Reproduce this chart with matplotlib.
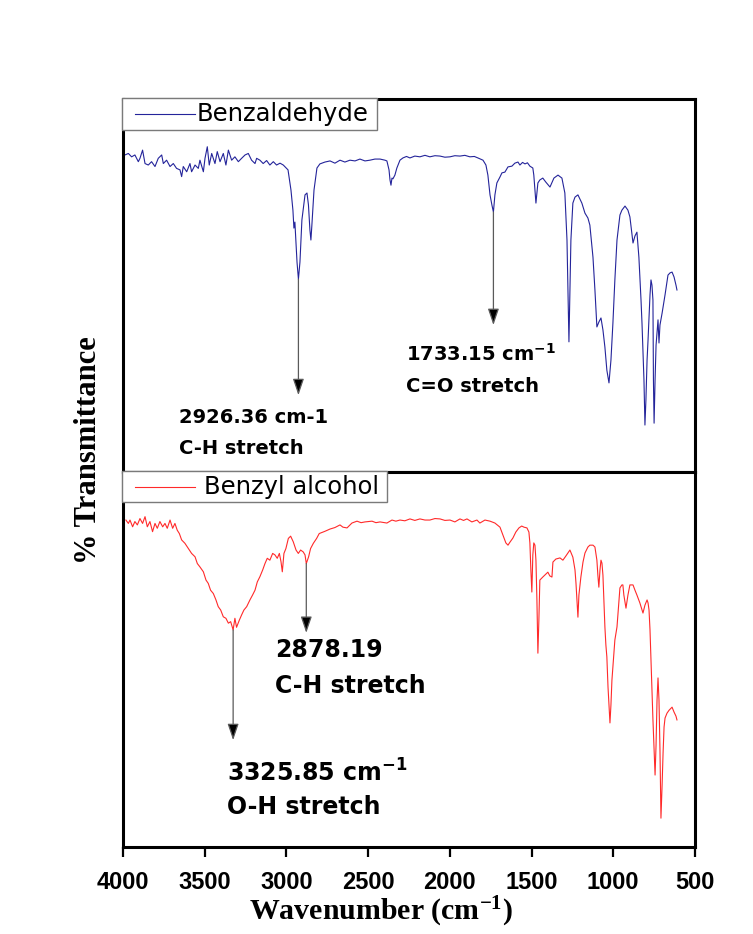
import matplotlib
matplotlib.use("Agg")
import matplotlib.pyplot as plt
from matplotlib.lines import Line2D
from matplotlib.patches import Rectangle

plt.rcParams['font.family'] = ['Liberation Sans', 'DejaVu Sans']

# FTIR spectrum of benzaldehyde (wavenumber in cm-1, % transmittance)
benzaldehyde_wn = [
    3988, 3967, 3947, 3927, 3906, 3896, 3880, 3865, 3845, 3825, 3804, 3784,
    3763, 3753, 3733, 3712, 3692, 3672, 3651, 3641, 3631, 3610, 3590, 3580,
    3559, 3539, 3529, 3508, 3498, 3484, 3472, 3457, 3437, 3423, 3406, 3386,
    3370, 3355, 3335, 3315, 3294, 3274, 3253, 3233, 3213, 3192, 3182, 3162,
    3142, 3121, 3101, 3080, 3060, 3039, 3019, 2999, 2990, 2972, 2960, 2954,
    2948, 2942, 2935, 2926.36, 2917, 2905, 2886, 2874, 2865, 2856, 2850, 2844,
    2831, 2813, 2795, 2764, 2733, 2703, 2672, 2642, 2611, 2580, 2550, 2519,
    2489, 2458, 2427, 2397, 2385, 2372, 2366, 2360, 2354, 2348, 2342, 2336,
    2324, 2305, 2287, 2265, 2244, 2214, 2183, 2152, 2122, 2091, 2060, 2030,
    1999, 1969, 1938, 1908, 1877, 1850, 1828, 1797, 1779, 1767, 1754, 1742,
    1733.15, 1724, 1712, 1693, 1681, 1663, 1644, 1620, 1602, 1583, 1571, 1555,
    1540, 1525, 1510, 1492, 1486, 1473, 1461, 1449, 1431, 1412, 1387, 1363,
    1338, 1314, 1296, 1283, 1277, 1271, 1265, 1259, 1247, 1234, 1216, 1192,
    1173, 1155, 1143, 1124, 1112, 1100, 1088, 1075, 1063, 1051, 1039, 1026,
    1014, 1002, 990, 977, 959, 947, 928, 910, 898, 885, 879, 867,
    855, 843, 830, 824, 812, 806, 800, 793, 787, 775, 769, 763,
    757, 754, 750, 744, 738, 732, 726, 720, 714, 701, 683, 665,
    652, 640, 628, 616, 610,
]
benzaldehyde_t = [
    85.0, 85.4, 84.5, 85.0, 83.2, 84.1, 86.3, 82.7, 82.3, 83.2, 81.9, 84.1,
    85.0, 82.7, 83.6, 81.9, 82.7, 81.4, 81.0, 79.2, 81.9, 80.5, 82.7, 80.5,
    82.3, 81.4, 83.6, 80.5, 84.1, 87.2, 82.3, 85.4, 82.7, 85.9, 83.2, 85.4,
    82.3, 86.3, 83.6, 84.5, 83.2, 84.1, 85.0, 85.4, 83.6, 82.7, 84.1, 83.6,
    82.7, 83.5, 82.3, 83.2, 82.3, 82.8, 82.3, 81.4, 81.0, 75.6, 70.2, 65.4,
    67.0, 62.2, 56.3, 51.7, 56.3, 67.6, 74.3, 74.8, 71.6, 64.9, 62.2, 66.2,
    75.6, 81.5, 82.6, 83.1, 83.4, 82.8, 83.6, 83.1, 83.6, 83.4, 83.9, 83.4,
    83.6, 83.9, 83.9, 83.6, 83.4, 81.0, 78.3, 76.9, 78.8, 78.6, 79.1, 79.6,
    81.5, 83.6, 84.2, 84.6, 84.2, 84.7, 84.5, 84.9, 84.5, 84.8, 84.7, 84.4,
    84.5, 84.8, 84.7, 84.9, 84.5, 84.6, 84.2, 83.6, 82.3, 79.6, 74.3, 71.5,
    69.7, 74.3, 77.5, 79.1, 80.2, 80.4, 81.8, 82.0, 82.8, 83.1, 82.3, 83.0,
    82.6, 82.9, 82.0, 81.5, 79.6, 72.1, 77.5, 78.3, 78.8, 77.7, 76.4, 78.8,
    79.6, 78.8, 74.8, 62.2, 48.8, 34.9, 48.8, 62.2, 72.1, 73.7, 74.3, 72.1,
    69.4, 68.1, 66.2, 57.6, 48.8, 38.9, 40.2, 41.3, 38.1, 33.5, 27.3, 23.9,
    30.0, 39.9, 51.5, 62.2, 68.9, 70.2, 71.3, 70.2, 68.4, 63.5, 61.4, 63.3,
    64.3, 57.6, 46.1, 39.9, 24.7, 12.6, 19.3, 30.0, 35.4, 47.5, 51.5, 50.1,
    46.1, 24.7, 13.1, 24.7, 34.0, 37.3, 40.8, 34.6, 39.4, 42.6, 47.5, 52.8,
    53.4, 53.6, 52.3, 50.1, 48.8,
]

# FTIR spectrum of benzyl alcohol (wavenumber in cm-1, % transmittance)
benzyl_wn = [
    3982, 3967, 3957, 3941, 3927, 3912, 3896, 3880, 3865, 3851, 3835, 3819,
    3804, 3790, 3774, 3757, 3743, 3729, 3712, 3696, 3682, 3668, 3655, 3641,
    3621, 3600, 3580, 3559, 3545, 3529, 3508, 3492, 3478, 3464, 3447, 3431,
    3417, 3402, 3386, 3370, 3355, 3341, 3325.85, 3315, 3305, 3288, 3274, 3260,
    3243, 3223, 3207, 3192, 3178, 3162, 3145, 3131, 3117, 3101, 3084, 3070,
    3056, 3043, 3033, 3025, 3015, 3003, 2988, 2974, 2958, 2941, 2927, 2913,
    2897, 2886, 2878.19, 2864, 2852, 2835, 2815, 2799, 2764, 2733, 2703, 2672,
    2654, 2629, 2599, 2568, 2543, 2519, 2476, 2452, 2427, 2385, 2354, 2330,
    2305, 2275, 2244, 2214, 2183, 2152, 2122, 2091, 2060, 2030, 1999, 1969,
    1938, 1916, 1895, 1865, 1834, 1816, 1785, 1754, 1724, 1693, 1675, 1657,
    1644, 1632, 1614, 1596, 1577, 1560, 1546, 1528, 1516, 1510, 1504, 1498,
    1492, 1486, 1479, 1473, 1467, 1461, 1455, 1449, 1431, 1412, 1400, 1388,
    1375, 1369, 1351, 1326, 1308, 1290, 1265, 1247, 1234, 1228, 1222, 1216,
    1210, 1198, 1185, 1173, 1155, 1143, 1124, 1112, 1100, 1094, 1088, 1081,
    1075, 1069, 1063, 1057, 1051, 1045, 1039, 1032, 1026, 1020, 1014, 1008,
    1002, 990, 977, 965, 959, 947, 941, 935, 922, 910, 898, 879,
    867, 855, 837, 824, 818, 806, 793, 787, 781, 775, 769, 763,
    757, 750, 744, 738, 732, 726, 720, 714, 708, 701, 695, 689,
    683, 671, 658, 640, 628, 616, 610,
]
benzyl_t = [
    87.2, 86.3, 87.2, 85.4, 86.8, 85.9, 87.6, 86.3, 88.1, 85.4, 86.8, 84.1,
    86.3, 85.0, 86.8, 85.4, 86.3, 85.0, 87.2, 85.0, 86.3, 84.5, 83.6, 81.9,
    81.0, 79.6, 78.3, 77.4, 75.6, 74.7, 73.4, 71.2, 70.3, 68.5, 67.6, 65.9,
    64.1, 63.2, 61.4, 61.0, 59.7, 60.1, 57.9, 61.0, 58.6, 60.5, 61.9, 63.2,
    64.1, 65.9, 67.2, 68.5, 70.7, 72.1, 73.9, 75.6, 77.0, 76.5, 78.3, 77.9,
    77.0, 78.3, 76.1, 73.4, 78.3, 79.6, 82.3, 82.9, 81.4, 79.2, 78.3, 79.2,
    78.7, 77.9, 75.6, 77.4, 79.6, 81.0, 82.3, 83.6, 84.2, 84.8, 85.2, 85.9,
    85.3, 85.1, 86.4, 86.9, 86.5, 86.7, 86.9, 86.5, 86.7, 86.4, 87.2, 86.9,
    87.2, 87.0, 87.5, 87.1, 87.5, 87.2, 87.2, 87.6, 87.5, 87.1, 87.2, 86.7,
    87.5, 87.1, 87.5, 86.7, 87.2, 86.4, 87.2, 86.9, 86.4, 85.3, 83.2, 81.1,
    80.5, 81.3, 82.4, 84.0, 85.1, 85.6, 85.3, 85.1, 84.0, 81.1, 73.9, 68.0,
    77.9, 81.1, 80.5, 76.5, 65.9, 51.7, 60.5, 71.2, 72.0, 72.8, 73.3, 72.3,
    72.0, 76.0, 76.8, 77.1, 76.5, 77.6, 79.2, 77.3, 73.9, 70.4, 65.9, 61.3,
    67.2, 72.0, 76.0, 78.4, 80.0, 80.5, 80.5, 80.0, 76.5, 72.5, 69.3, 73.9,
    76.5, 75.7, 72.5, 65.9, 58.7, 53.9, 50.7, 42.7, 37.9, 33.1, 37.9, 44.5,
    48.0, 55.2, 58.7, 65.9, 69.1, 69.9, 69.9, 67.2, 63.7, 67.2, 69.9, 69.9,
    68.5, 67.2, 65.1, 63.2, 62.4, 64.5, 65.9, 65.1, 63.2, 57.9, 49.9, 41.9,
    33.9, 25.9, 19.2, 27.2, 39.2, 45.1, 39.2, 25.9, 7.7, 16.5, 25.1, 32.0,
    34.4, 35.7, 36.5, 37.3, 36.0, 34.9, 33.9,
]

x_ticks = [4000, 3500, 3000, 2500, 2000, 1500, 1000, 500]

blue = '#24249a'
red = '#ff2a2a'
frame_w = 2.2
wide_sans = ['DejaVu Sans']
serif = ['Liberation Serif', 'DejaVu Serif']

fig = plt.figure(figsize=(7.53, 9.34), dpi=100)
ax_top = fig.add_axes([0.1633, 0.4946, 0.7596, 0.3994])
ax_bot = fig.add_axes([0.1633, 0.0931, 0.7596, 0.4015])

ax_top.plot(benzaldehyde_wn, benzaldehyde_t, color=blue, lw=0.8)
ax_bot.plot(benzyl_wn, benzyl_t, color=red, lw=0.8)

for ax in (ax_top, ax_bot):
    ax.set_xlim(4000, 500)
    ax.set_ylim(0, 100)
    for sp in ax.spines.values():
        sp.set_linewidth(frame_w)
        sp.set_color('black')
    ax.set_yticks([])

ax_top.set_xticks([])
ax_bot.set_xticks(x_ticks)
ax_bot.set_xticklabels([str(v) for v in x_ticks], fontsize=17, fontweight='bold')
ax_bot.tick_params(axis='x', direction='out', length=7, width=1.6, pad=10)


# Boxed legend sitting on the upper-left corner of a panel
def panel_legend(ax, color, label, box_right, box_bottom, text_x):
    ax.add_patch(Rectangle((-0.002, box_bottom), box_right + 0.002, 1.004 - box_bottom,
                           transform=ax.transAxes, fc='white', ec='#7a7a7a',
                           lw=1.0, zorder=5, clip_on=False))
    yc = (box_bottom + 1.0) / 2
    ax.add_line(Line2D([0.021, 0.126], [yc, yc], transform=ax.transAxes,
                       color=color, lw=0.8, zorder=6, clip_on=False))
    ax.text(text_x, yc, label, transform=ax.transAxes, family=wide_sans,
            fontsize=17.5, ha='left', va='center', zorder=7)


panel_legend(ax_top, blue, 'Benzaldehyde', 0.444, 0.917, 0.128)
panel_legend(ax_bot, red, 'Benzyl alcohol', 0.4615, 0.92, 0.142)

arrow_props = dict(arrowstyle='-|>,head_length=0.5,head_width=0.17',
                   ec='#5a5a5a', fc='black', lw=0.9, shrinkA=0, shrinkB=0,
                   mutation_scale=20)
note_top = dict(family=wide_sans, fontsize=14, fontweight='bold', va='center', ha='left')
note_bot = dict(family=wide_sans, fontsize=17, fontweight='bold', va='center', ha='left')

# Benzaldehyde peak assignments
ax_top.annotate('', xy=(2926.36, 20.6), xytext=(2926.36, 51.7), arrowprops=arrow_props)
ax_top.text(3657, 14.5, '2926.36 cm-1', **note_top)
ax_top.text(3657, 6.2, 'C-H stretch', **note_top)

ax_top.annotate('', xy=(1733.15, 39.4), xytext=(1733.15, 69.7), arrowprops=arrow_props)
ax_top.text(2268, 31.6, r'1733.15 cm$\mathregular{^{-1}}$', **note_top)
ax_top.text(2268, 22.8, 'C=O stretch', **note_top)

# Benzyl alcohol peak assignments
ax_bot.annotate('', xy=(2878.19, 57.1), xytext=(2878.19, 75.6), arrowprops=arrow_props)
ax_bot.text(3070, 52.5, '2878.19', **note_bot)
ax_bot.text(3070, 42.9, 'C-H stretch', **note_bot)

ax_bot.annotate('', xy=(3325.85, 28.5), xytext=(3325.85, 57.9), arrowprops=arrow_props)
ax_bot.text(3364, 19.7, r'3325.85 cm$\mathregular{^{-1}}$', **note_bot)
ax_bot.text(3364, 10.7, 'O-H stretch', **note_bot)

fig.text(381 / 753, 1 - 912 / 934, r'Wavenumber (cm$\mathregular{^{-1}}$)',
         family=serif, fontsize=21.5, fontweight='bold', ha='center', va='center')
fig.text(88 / 753, 1 - 450 / 934, '% Transmittance', family=serif, fontsize=22,
         fontweight='bold', rotation=90, ha='center', va='center')

fig.savefig('out.png', dpi=100, facecolor='white')
